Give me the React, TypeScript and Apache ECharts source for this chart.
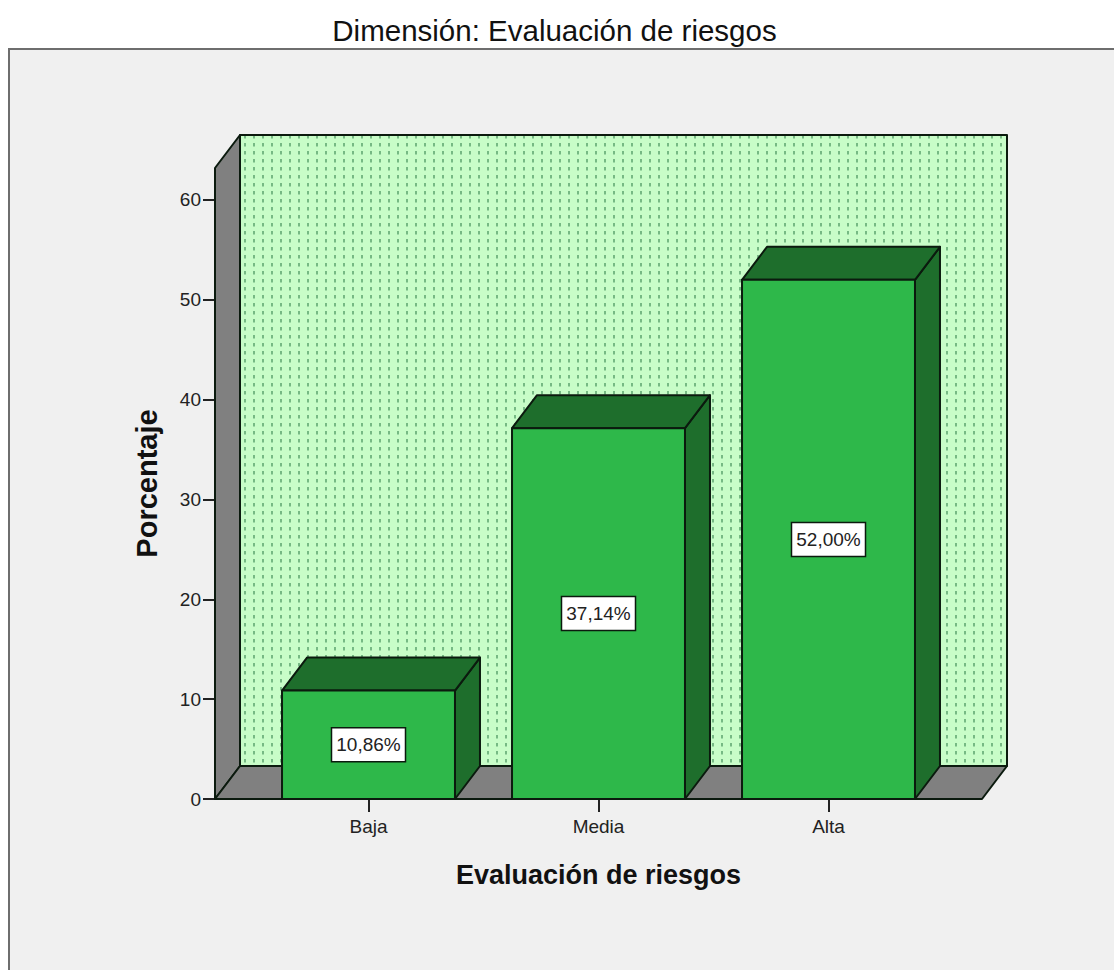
import React, { useEffect, useRef } from "react";
import * as echarts from "echarts";

const TITLE = "Dimensión: Evaluación de riesgos";
const X_NAME = "Evaluación de riesgos";
const Y_NAME = "Porcentaje";
const categories = ["Baja", "Media", "Alta"];
const percentages = [10.86, 37.14, 52.0];
const valueLabels = ["10,86%", "37,14%", "52,00%"];
const yTicks = [0, 10, 20, 30, 40, 50, 60];
const Y_MAX = 63.2;
const Y_STEP = 10;

const DEPTH_X = 25;
const DEPTH_Y = 33;
const OVERHANG = 38.5; // floor extends past the outer category bands
const BAR_RATIO = 0.752;
const DOT_SPACING = 9;

const INK = "#0b1a0e";
const WALL = "#808080";
const BACK = "#c8fdc8";
const DOT = "#4c9660";
const FRONT = "#2eb84a";
const SHADE = "#1e6e2c";
const FONT = "'Liberation Sans', Arial, sans-serif";

function renderRoom(params: any, api: any) {
  const cs = params.coordSys;
  const l = cs.x - OVERHANG;
  const r = cs.x + cs.width + OVERHANG;
  const t = cs.y;
  const b = cs.y + cs.height;
  const line = { stroke: INK, lineWidth: 2, lineJoin: "round" };
  const children: any[] = [
    {
      type: "rect",
      shape: { x: l + DEPTH_X, y: t - DEPTH_Y, width: r - l, height: b - t },
      style: { fill: BACK },
    },
  ];
  for (let x = l + DEPTH_X + 5; x < r + DEPTH_X - 1; x += DOT_SPACING) {
    children.push({
      type: "line",
      shape: { x1: x, y1: t - DEPTH_Y, x2: x, y2: b - DEPTH_Y },
      style: { stroke: DOT, lineWidth: 1.3, lineDash: [3.5, 4.5] },
    });
  }
  children.push(
    {
      type: "rect",
      shape: { x: l + DEPTH_X, y: t - DEPTH_Y, width: r - l, height: b - t },
      style: { fill: "none", ...line },
    },
    {
      type: "polygon",
      shape: {
        points: [
          [l, t],
          [l + DEPTH_X, t - DEPTH_Y],
          [l + DEPTH_X, b - DEPTH_Y],
          [l, b],
        ],
      },
      style: { fill: WALL, ...line },
    },
    {
      type: "polygon",
      shape: {
        points: [
          [l, b],
          [l + DEPTH_X, b - DEPTH_Y],
          [r + DEPTH_X, b - DEPTH_Y],
          [r, b],
        ],
      },
      style: { fill: WALL, ...line },
    }
  );
  return { type: "group", children };
}

function renderBar(params: any, api: any) {
  const idx = api.value(0);
  const val = api.value(1);
  const [cx, top] = api.coord([idx, val]);
  const [, bottom] = api.coord([idx, 0]);
  const w = api.size([1, 0])[0] * BAR_RATIO;
  const l = cx - w / 2;
  const r = cx + w / 2;
  const line = { stroke: INK, lineWidth: 2, lineJoin: "round" };
  return {
    type: "group",
    children: [
      {
        type: "polygon",
        shape: {
          points: [
            [r, top],
            [r + DEPTH_X, top - DEPTH_Y],
            [r + DEPTH_X, bottom - DEPTH_Y],
            [r, bottom],
          ],
        },
        style: { fill: SHADE, ...line },
      },
      {
        type: "polygon",
        shape: {
          points: [
            [l, top],
            [l + DEPTH_X, top - DEPTH_Y],
            [r + DEPTH_X, top - DEPTH_Y],
            [r, top],
          ],
        },
        style: { fill: SHADE, ...line },
      },
      {
        type: "rect",
        shape: { x: l, y: top, width: w, height: bottom - top },
        style: { fill: FRONT, ...line },
      },
      {
        type: "rect",
        shape: { x: cx - 37, y: (top + bottom) / 2 - 17, width: 74, height: 34 },
        style: { fill: "#ffffff", stroke: INK, lineWidth: 1.5 },
      },
      {
        type: "text",
        x: cx,
        y: (top + bottom) / 2,
        style: {
          text: valueLabels[params.dataIndex],
          fill: "#222222",
          font: `19px ${FONT}`,
          align: "center",
          verticalAlign: "middle",
        },
      },
    ],
  };
}

export default function App() {
  const ref = useRef<HTMLDivElement>(null);
  useEffect(() => {
    const chart = echarts.init(ref.current!, undefined, { renderer: "svg" });
    chart.setOption({
      animation: false,
      backgroundColor: "#ffffff",
      title: {
        text: TITLE,
        left: 549.5,
        top: 10,
        textAlign: "center",
        textStyle: { fontFamily: FONT, fontSize: 29.5, fontWeight: "normal", color: "#111111" },
      },
      graphic: [
        {
          type: "rect",
          z: -10,
          shape: { x: 9, y: 49, width: 1200, height: 1000 },
          style: { fill: "#f0f0f0", stroke: "#6e6e6e", lineWidth: 2 },
        },
      ],
      grid: { left: 253.5, top: 168, width: 690, height: 631 },
      xAxis: {
        type: "category",
        data: categories,
        name: X_NAME,
        nameLocation: "middle",
        nameGap: 62,
        nameTextStyle: { fontFamily: FONT, fontSize: 27, fontWeight: "bold", color: "#111111" },
        axisLine: { show: false },
        axisTick: { show: true, alignWithLabel: true, length: 13, lineStyle: { color: "#222222", width: 2 } },
        axisLabel: { fontFamily: FONT, fontSize: 19, color: "#222222", margin: 18 },
      },
      yAxis: {
        type: "value",
        min: 0,
        max: Y_MAX,
        interval: Y_STEP,
        offset: OVERHANG,
        name: Y_NAME,
        nameLocation: "middle",
        nameGap: 54,
        nameTextStyle: { fontFamily: FONT, fontSize: 29, fontWeight: "bold", color: "#111111" },
        splitLine: { show: false },
        axisLine: { show: false },
        axisTick: { show: true, length: 12, customValues: yTicks, lineStyle: { color: "#222222", width: 2 } },
        axisLabel: {
          fontFamily: FONT,
          fontSize: 19,
          color: "#222222",
          margin: 14,
          customValues: yTicks,
        },
      },
      series: [
        {
          type: "custom",
          name: "room",
          z: 1,
          silent: true,
          clip: false,
          renderItem: renderRoom,
          data: [[0, 0]],
          encode: { x: 0, y: 1 },
        },
        {
          type: "custom",
          name: "Porcentaje",
          z: 3,
          clip: false,
          renderItem: renderBar,
          data: percentages.map((v, i) => [i, v]),
          encode: { x: 0, y: 1 },
        },
      ],
    });
    return () => chart.dispose();
  }, []);
  return (
    <div
      ref={ref}
      style={{ position: "fixed", left: 0, top: 0, width: 1114, height: 970 }}
    />
  );
}
